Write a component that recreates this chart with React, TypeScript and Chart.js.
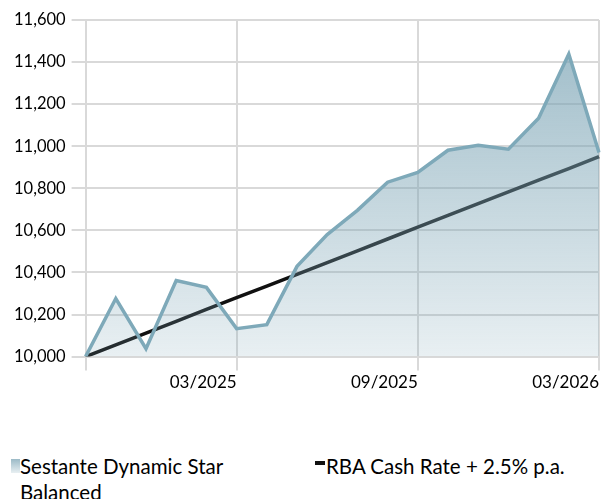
import React, { useEffect, useRef } from "react";
import { Chart, registerables } from "chart.js";

Chart.register(...registerables);

const categories = [
  "10/2024", "11/2024", "12/2024", "01/2025", "02/2025", "03/2025",
  "04/2025", "05/2025", "06/2025", "07/2025", "08/2025", "09/2025",
  "10/2025", "11/2025", "12/2025", "01/2026", "02/2026", "03/2026",
];
const tickLabels = ["03/2025", "09/2025", "03/2026"];
const fundName = ["Sestante Dynamic Star", "Balanced"];
const benchName = "RBA Cash Rate + 2.5% p.a.";
const fundValues = [
  10000, 10276, 10038, 10362, 10329, 10133, 10152, 10429, 10580, 10695,
  10829, 10876, 10981, 11005, 10986, 11133, 11438, 10970,
];
const benchValues = [
  10000, 10056, 10112, 10168, 10224, 10280, 10335, 10391, 10447, 10503,
  10559, 10615, 10671, 10727, 10783, 10839, 10894, 10950,
];

const GRID = "#d9d9d9";
const FONT = "Lato";

export default function App() {
  const ref = useRef<HTMLCanvasElement>(null);
  useEffect(() => {
    document.body.style.margin = "0";
    const gridIdx = [0, ...tickLabels.map((t) => categories.indexOf(t))];
    const chart = new Chart(ref.current!, {
      type: "line",
      data: {
        labels: categories,
        datasets: [
          {
            label: fundName.join(" "),
            data: fundValues,
            borderColor: "#7ea9b9",
            borderWidth: 3.5,
            pointRadius: 0,
            tension: 0,
            fill: "start",
            backgroundColor: (ctx: any) => {
              const { chart } = ctx;
              const a = chart.chartArea;
              if (!a) return "rgba(122,163,180,0.4)";
              const g = chart.ctx.createLinearGradient(0, a.top, 0, a.bottom);
              g.addColorStop(0, "rgba(122,163,180,0.75)");
              g.addColorStop(1, "rgba(122,163,180,0.17)");
              return g;
            },
          },
          {
            label: benchName,
            data: benchValues,
            borderColor: "#111111",
            borderWidth: 3.5,
            pointRadius: 0,
            tension: 0,
            fill: false,
          },
        ],
      },
      options: {
        animation: false,
        responsive: false,
        maintainAspectRatio: false,
        layout: { padding: { left: 8, right: 1, top: 20, bottom: 0 } },
        plugins: { legend: { display: false }, tooltip: { enabled: false } },
        scales: {
          x: {
            offset: false,
            grid: {
              color: (c: any) => (gridIdx.includes(c.index) ? GRID : "rgba(0,0,0,0)"),
              lineWidth: 2,
              tickLength: 14,
            },
            border: { color: GRID, width: 2 },
            ticks: {
              autoSkip: false,
              maxRotation: 0,
              align: "end",
              padding: 2,
              color: "#000",
              font: { family: FONT, size: 17 },
              callback: (_v: any, i: number) =>
                tickLabels.includes(categories[i]) ? categories[i] : "",
            },
          },
          y: {
            min: 10000,
            max: 11600,
            grid: { color: GRID, lineWidth: 2, tickLength: 14 },
            border: { color: GRID, width: 2 },
            ticks: {
              stepSize: 200,
              padding: 6,
              color: "#000",
              font: { family: FONT, size: 16.5 },
            },
          },
        },
      },
    });
    return () => chart.destroy();
  }, []);

  return (
    <div style={{ position: "relative", width: 601, height: 499, fontFamily: FONT }}>
      <canvas ref={ref} width={601} height={395} style={{ display: "block" }} />
      <div
        style={{
          position: "absolute",
          left: 11,
          top: 459,
          width: 9,
          height: 14,
          background: "linear-gradient(rgba(122,163,180,0.75), rgba(122,163,180,0.17))",
        }}
      />
      <div
        style={{
          position: "absolute",
          left: 20,
          top: 453,
          fontSize: 20.5,
          lineHeight: "26px",
          color: "#000",
          whiteSpace: "nowrap",
        }}
      >
        {fundName[0]}
        <br />
        {fundName[1]}
      </div>
      <div
        style={{
          position: "absolute",
          left: 315,
          top: 461,
          width: 10,
          height: 4,
          background: "#111",
        }}
      />
      <div
        style={{
          position: "absolute",
          left: 326,
          top: 453,
          fontSize: 20.5,
          lineHeight: "26px",
          color: "#000",
          whiteSpace: "nowrap",
        }}
      >
        {benchName}
      </div>
    </div>
  );
}
